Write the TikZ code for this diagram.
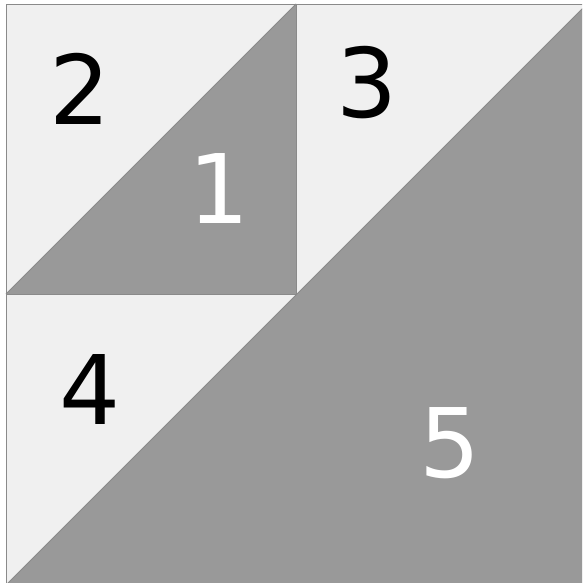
\documentclass[tikz,border=0pt]{standalone}
\usepackage{fontspec}
\setmainfont{DejaVu Sans}
\definecolor{lightfill}{HTML}{F0F0F0}
\definecolor{darkfill}{HTML}{999999}
\definecolor{edge}{HTML}{8A8A8A}
\begin{document}
\begin{tikzpicture}[x=1pt,y=-1pt,
  lab/.style={inner sep=0pt,font=\fontsize{96}{96}\selectfont},
  darklab/.style={lab,text=white},
  lightlab/.style={lab,text=black},
  edgeline/.style={draw=edge,line width=0.8pt}]
\useasboundingbox (0,0) rectangle (582,583);
\clip (0,0) rectangle (582,583);
\coordinate (TL) at (6,4);
\coordinate (TR) at (587,4);
\coordinate (BL) at (6,585);
\coordinate (BR) at (587,585);
\coordinate (M) at (296,294);
\coordinate (MT) at (296,4);
\coordinate (ML) at (6,294);
\fill[lightfill] (TL) rectangle (BR);
\fill[darkfill] (BL) -- (TR) -- (BR) -- cycle;
\fill[darkfill] (ML) -- (MT) -- (M) -- cycle;
\draw[edgeline] (TL) rectangle (BR);
\draw[edgeline] (MT) -- (M) -- (ML);
\draw[edgeline] (ML) -- (MT);
\draw[edgeline] (BL) -- (TR);
\node[lightlab] (n2) at (80,88.5) {2};
\node[darklab] (n1) at (219.5,188.5) {1};
\node[lightlab] (n3) at (367,83) {3};
\node[lightlab] (n4) at (90,390) {4};
\node[darklab] (n5) at (450,443) {5};
\end{tikzpicture}
\end{document}
